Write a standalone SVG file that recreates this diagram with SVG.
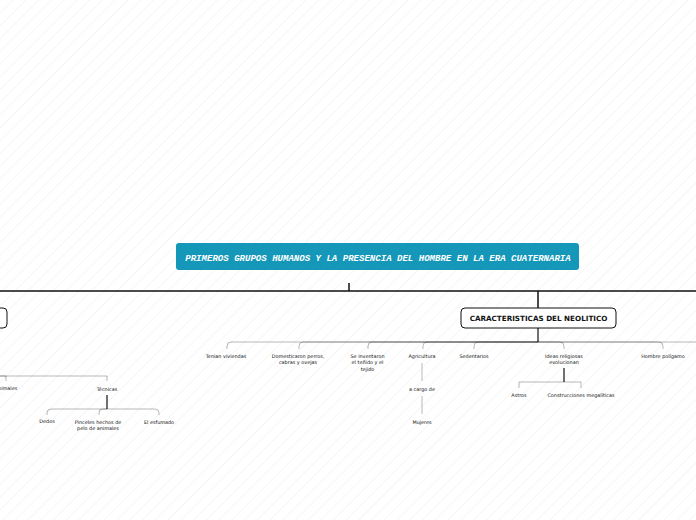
<svg xmlns="http://www.w3.org/2000/svg" width="696" height="520" viewBox="0 0 696 520">
<defs>
<pattern id="hatch" width="9" height="9" patternUnits="userSpaceOnUse" patternTransform="rotate(45)">
<line x1="0" y1="0" x2="0" y2="9" stroke="#eeeeee" stroke-width="1"/>
</pattern>
</defs>
<style>
.t{font-family:"DejaVu Sans",Verdana,sans-serif;font-size:4.9px;fill:#111;text-anchor:middle}
.main{stroke:#111;stroke-width:1.5;fill:none}
.thick{stroke:#111;stroke-width:1.2;fill:none}
.br{stroke:#000;stroke-opacity:0.28;stroke-width:1;fill:none}
.box{fill:#fff;stroke:#111;stroke-width:1}
</style>
<rect width="696" height="520" fill="#fff"/>
<rect width="696" height="520" fill="url(#hatch)"/>
<g id="connectors">
<path class="main" d="M349,283 V291 M0,291 H696 M538,291 V308"/>
<path class="thick" d="M538,328 V342"/>
<path class="br" d="M538,342 H231 Q227,342 227,346 V349"/>
<path class="br" d="M538,342 H303 Q299,342 299,346 V349"/>
<path class="br" d="M538,342 H372 Q368,342 368,346 V349"/>
<path class="br" d="M538,342 H427 Q423,342 423,346 V349"/>
<path class="br" d="M538,342 H478 Q474,342 474,346 V349"/>
<path class="br" d="M538,342 H560 Q564,342 564,346 V349"/>
<path class="br" d="M538,342 H659 Q663,342 663,346 V349"/>
<path class="br" d="M538,342 H740"/>
<path class="br" d="M422,363 V381 M422,396 V414"/>
<path class="thick" d="M564,368 V382"/>
<path class="br" d="M564,382 H519 V388 M564,382 H581 V388"/>
<path class="br" d="M-60,376 H6 V381 M-60,376 H107 V381"/>
<path class="thick" d="M107,395 V409"/>
<path class="br" d="M107,409 H51 Q47,409 47,413 V415"/>
<path class="br" d="M107,409 H103 Q99,409 99,413 V415"/>
<path class="br" d="M107,409 H155 Q159,409 159,413 V415"/>
</g>
<g id="root">
<rect x="176" y="243" width="403" height="27" rx="3" fill="#1497b9"/>
<text x="378" y="260.5" font-family="'Liberation Mono','Courier New',monospace" font-size="9.05" font-weight="bold" font-style="italic" fill="#fff" text-anchor="middle">PRIMEROS GRUPOS HUMANOS Y LA PRESENCIA DEL HOMBRE EN LA ERA CUATERNARIA</text>
</g>
<g id="left-box">
<rect class="box" x="-150" y="308" width="157" height="20" rx="4"/>
</g>
<g id="neolitico">
<rect class="box" x="461" y="308" width="155" height="20" rx="4"/>
<text x="538.5" y="320.5" font-family="'DejaVu Sans',Verdana,sans-serif" font-size="7.2" font-weight="bold" fill="#111" text-anchor="middle">CARACTERISTICAS DEL NEOLITICO</text>
</g>
<g id="n-viviendas"><text class="t" x="226" y="357.5">Tenian viviendas</text></g>
<g id="n-domesticaron"><text class="t" x="298" y="357.5">Domesticaron perros,<tspan x="298" dy="6">cabras y ovejas</tspan></text></g>
<g id="n-inventaron"><text class="t" x="367.5" y="357.5">Se inventaron<tspan x="367.5" dy="6.5">el teñido y el</tspan><tspan x="367.5" dy="6.5">tejido</tspan></text></g>
<g id="n-agricultura"><text class="t" x="422" y="357.5">Agricultura</text></g>
<g id="n-acargo"><text class="t" x="422" y="390.5">a cargo de</text></g>
<g id="n-mujeres"><text class="t" x="422" y="423.5">Mujeres</text></g>
<g id="n-sedentarios"><text class="t" x="474" y="357.5">Sedentarios</text></g>
<g id="n-ideas"><text class="t" x="564" y="357.5">Ideas religiosas<tspan x="564" dy="6">evolucionan</tspan></text></g>
<g id="n-astros"><text class="t" x="519" y="396.5">Astros</text></g>
<g id="n-megaliticas"><text class="t" x="581" y="396.5">Construcciones megalíticas</text></g>
<g id="n-poligamo"><text class="t" x="663" y="357.5">Hombre polígamo</text></g>
<g id="l-animales"><text class="t" x="6" y="389.5">Animales</text></g>
<g id="l-tecnicas"><text class="t" x="107" y="390.5">Técnicas</text></g>
<g id="l-dedos"><text class="t" x="47" y="423">Dedos</text></g>
<g id="l-pinceles"><text class="t" x="98" y="423.5">Pinceles hechos de<tspan x="98" dy="6">pelo de animales</tspan></text></g>
<g id="l-esfumado"><text class="t" x="159" y="423.5">El esfumado</text></g>
</svg>
